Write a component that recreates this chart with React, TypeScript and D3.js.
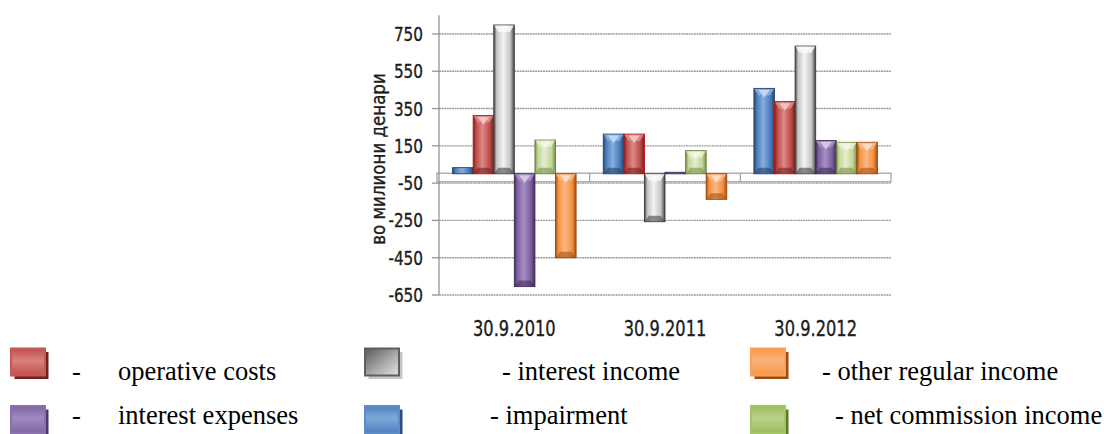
import React from "react";
import * as d3 from "d3";

// Quarterly snapshots (millions of denars)
const categories = ["30.9.2010", "30.9.2011", "30.9.2012"];

const impairment = [33, 213, 458];
const operativeCosts = [312, 213, 387];
const interestIncome = [798, -257, 685];
const interestExpenses = [-605, 8, 178];
const netCommissionIncome = [181, 124, 169];
const otherRegularIncome = [-450, -137, 169];

const yTicks = [-650, -450, -250, -50, 150, 350, 550, 750];
const yTitle = "во милиони денари";

type Series = {
  key: string;
  values: number[];
  base: string;
  light: string;
  dark: string;
  edge: string;
};

// Bar order inside each date group
const series: Series[] = [
  { key: "impairment", values: impairment, base: "#4a7cba", light: "#86aede", dark: "#27456c", edge: "#27456c" },
  { key: "operative", values: operativeCosts, base: "#bd4b48", light: "#dc8a87", dark: "#76211f", edge: "#b31414" },
  { key: "interestIncome", values: interestIncome, base: "#c4c4c4", light: "#f4f4f4", dark: "#444444", edge: "#3c3c3c" },
  { key: "interestExpenses", values: interestExpenses, base: "#7c5f9f", light: "#a78fc6", dark: "#412d5a", edge: "#3a2950" },
  { key: "netCommission", values: netCommissionIncome, base: "#c3d69b", light: "#e4edcc", dark: "#7a914c", edge: "#667c3c" },
  { key: "otherRegular", values: otherRegularIncome, base: "#f59241", light: "#fbb784", dark: "#a95116", edge: "#944410" },
];

type LegendItem = {
  col: number;
  row: number;
  stops: string[];
  diagonal: boolean;
  shadow: string;
  border: string;
  dash?: string;
  label: string;
  labelX: number;
};

const legendItems: LegendItem[] = [
  { col: 0, row: 0, stops: ["#c0504d", "#da817e", "#c0504d"], diagonal: false, shadow: "#6e2321", border: "#c65955", dash: "-", label: "operative costs", labelX: 118 },
  { col: 0, row: 1, stops: ["#8064a2", "#a08ac0", "#8064a2"], diagonal: false, shadow: "#4a3868", border: "#8a70ad", dash: "-", label: "interest expenses", labelX: 118 },
  { col: 1, row: 0, stops: ["#595959", "#a9a9a9", "#e4e4e4"], diagonal: true, shadow: "#c6c6c6", border: "#5e5e5e", label: "- interest income", labelX: 502 },
  { col: 1, row: 1, stops: ["#4f81bd", "#7ea8da", "#4f81bd"], diagonal: false, shadow: "#2c4d76", border: "#5a8cc8", label: "- impairment", labelX: 490 },
  { col: 2, row: 0, stops: ["#f79646", "#fbb27a", "#f79646"], diagonal: false, shadow: "#9c4a10", border: "#f8a15a", label: "- other regular income", labelX: 822 },
  { col: 2, row: 1, stops: ["#9bbb59", "#bcd28c", "#9bbb59"], diagonal: false, shadow: "#5c7a26", border: "#a5c466", label: "- net commission income", labelX: 835 },
];

const W = 1104;
const H = 434;

const plotLeft = 439;
const plotRight = 891;

const y = d3.scaleLinear().domain([-650, 850]).range([295, 15.3]);
const x0 = d3.scaleBand<string>().domain(categories).range([plotLeft, plotRight]).padding(0);
const x1 = d3
  .scaleBand<string>()
  .domain(series.map((s) => s.key))
  .range([0, x0.bandwidth()])
  .paddingInner(0)
  .paddingOuter(0.66);

const axisFont = "'DejaVu Sans Condensed', 'DejaVu Sans', sans-serif";
const legendFont = "'Liberation Serif', 'Times New Roman', serif";
const axisInk = "#1c1c1c";

function Bar({ s, i, cat }: { s: Series; i: number; cat: string }) {
  const v = s.values[i];
  const bx = (x0(cat) as number) + (x1(s.key) as number);
  const bw = x1.bandwidth();
  const y0 = y(0);
  const yv = y(v);
  const top = Math.min(y0, yv);
  const bottom = Math.max(y0, yv);
  const h = bottom - top;
  const bev = Math.min(6, h / 3);
  const inset = 4.5;
  return (
    <g>
      <rect x={bx} y={top} width={bw} height={h} fill={`url(#bar-${s.key})`} stroke={s.edge} strokeWidth={0.9} />
      {h > 8 && (
        <>
          <polygon
            points={`${bx + 0.5},${top + 0.5} ${bx + bw - 0.5},${top + 0.5} ${bx + bw - inset},${top + bev + 1} ${bx + inset},${top + bev + 1}`}
            fill={s.light}
            opacity={0.9}
          />
          <polygon
            points={`${bx + inset},${top + 1.5} ${bx + bw - inset},${top + 1.5} ${bx + bw / 2},${top + bev + 3}`}
            fill="#ffffff"
            opacity={0.5}
          />
          <polygon
            points={`${bx + 0.5},${bottom - 0.5} ${bx + bw - 0.5},${bottom - 0.5} ${bx + bw - inset},${bottom - bev} ${bx + inset},${bottom - bev}`}
            fill={s.dark}
            opacity={0.6}
          />
        </>
      )}
    </g>
  );
}

export default function App() {
  const floorTop = y(0) - 0.6;
  const floorBottom = floorTop + 8.6;
  return (
    <svg
      width={W}
      height={H}
      viewBox={`0 0 ${W} ${H}`}
      style={{ position: "absolute", left: 0, top: 0, display: "block", background: "#ffffff" }}
    >
      <defs>
        {series.map((s) => (
          <linearGradient key={s.key} id={`bar-${s.key}`} x1="0" y1="0" x2="1" y2="0">
            <stop offset="0%" stopColor={s.dark} />
            <stop offset="14%" stopColor={s.base} />
            <stop offset="45%" stopColor={s.light} />
            <stop offset="80%" stopColor={s.base} />
            <stop offset="100%" stopColor={s.dark} />
          </linearGradient>
        ))}
        {legendItems.map((l, k) => (
          <linearGradient key={k} id={`leg-${k}`} x1="0" y1="0" x2={l.diagonal ? "1" : "0"} y2="1">
            <stop offset="0%" stopColor={l.stops[0]} />
            <stop offset={l.diagonal ? "55%" : "45%"} stopColor={l.stops[1]} />
            <stop offset="100%" stopColor={l.stops[2]} />
          </linearGradient>
        ))}
      </defs>

      {/* horizontal gridlines */}
      {yTicks.map((t) => (
        <line
          key={`g${t}`}
          x1={plotLeft}
          x2={plotRight}
          y1={y(t)}
          y2={y(t)}
          stroke="#9c9c9c"
          strokeWidth={1.4}
          strokeDasharray="2 0.6"
        />
      ))}

      {/* floor of the 3-D plot */}
      <rect x={plotLeft - 2} y={floorTop} width={plotRight - plotLeft + 2} height={floorBottom - floorTop} fill="#ffffff" stroke="#9e9e9e" strokeWidth={1.2} />
      {categories.slice(1).map((c) => (
        <line key={`d${c}`} x1={x0(c) as number} x2={x0(c) as number} y1={floorTop} y2={floorBottom} stroke="#9e9e9e" strokeWidth={1.2} />
      ))}

      {/* y axis */}
      <line x1={plotLeft} x2={plotLeft} y1={y(850)} y2={y(-650)} stroke="#949494" strokeWidth={1.3} />
      {yTicks.map((t) => (
        <line key={`t${t}`} x1={plotLeft - 7} x2={plotLeft} y1={y(t)} y2={y(t)} stroke="#949494" strokeWidth={1.3} />
      ))}
      {yTicks.map((t) => (
        <text
          key={`l${t}`}
          transform={`translate(423, ${y(t) + 7}) scale(0.87, 1)`}
          textAnchor="end"
          fontFamily={axisFont}
          fontSize={19.5}
          fill={axisInk}
          stroke={axisInk}
          strokeWidth={0.35}
        >
          {t}
        </text>
      ))}
      <text
        transform={`translate(385, 159) rotate(-90) scale(0.95, 1)`}
        textAnchor="middle"
        fontFamily={axisFont}
        fontSize={19.5}
        fill={axisInk}
        stroke={axisInk}
        strokeWidth={0.3}
      >
        {yTitle}
      </text>

      {/* bars */}
      {categories.map((c, i) => (
        <g key={c}>
          {series.map((s) => (
            <Bar key={s.key} s={s} i={i} cat={c} />
          ))}
        </g>
      ))}

      {/* category labels */}
      {categories.map((c) => (
        <text
          key={`x${c}`}
          transform={`translate(${(x0(c) as number) + x0.bandwidth() / 2}, 336) scale(0.86, 1)`}
          textAnchor="middle"
          fontFamily={axisFont}
          fontSize={21}
          fill={axisInk}
          stroke={axisInk}
          strokeWidth={0.35}
        >
          {c}
        </text>
      ))}

      {/* legend */}
      {legendItems.map((l, k) => {
        const sx = [11, 365, 751][l.col];
        const sy = [348.5, 406][l.row];
        const base = [380, 423.5][l.row];
        return (
          <g key={`lg${k}`}>
            <rect x={sx + 3.5} y={sy + 3.5} width={34} height={27} fill={l.shadow} />
            <rect x={sx} y={sy} width={34} height={27} fill={`url(#leg-${k})`} stroke={l.border} strokeWidth={2} />
            {l.dash && (
              <text x={72} y={base} fontFamily={legendFont} fontSize={26.5} fill="#000">
                {l.dash}
              </text>
            )}
            <text x={l.labelX} y={base} fontFamily={legendFont} fontSize={26.5} fill="#000">
              {l.label}
            </text>
          </g>
        );
      })}
    </svg>
  );
}
